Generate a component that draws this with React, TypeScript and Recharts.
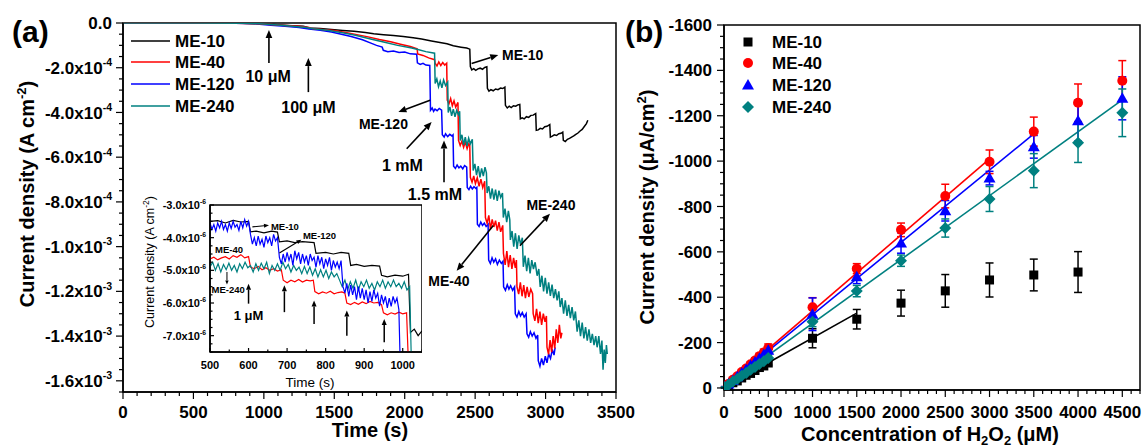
import React from "react";
import {
  ComposedChart,
  Line,
  Scatter,
  ErrorBar,
  XAxis,
  YAxis,
  ReferenceArea,
  ReferenceLine,
  ReferenceDot,
} from "recharts";

const FONT = "Arial, 'Liberation Sans', Helvetica, sans-serif";
const INK = "#000000";
const RED = "#ff0000";
const BLUE = "#0000ff";
const TEAL = "#008080";

type Pt = [number, number];

// (a) i-t traces, current density in units of 1e-4 A cm^-2
const TRACE_ME10: Pt[] = [
  [0, 0], [400, 0], [700, 0], [850, -0.01], [980, -0.02], [1040, -0.06], [1120, -0.09], [1200, -0.12],
  [1280, -0.15], [1325, -0.22], [1400, -0.25], [1480, -0.29], [1560, -0.33], [1640, -0.37], [1720, -0.43],
  [1780, -0.48], [1850, -0.52], [1920, -0.56], [1990, -0.6], [2060, -0.66], [2120, -0.72], [2190, -0.8],
  [2250, -0.87], [2300, -0.93], [2345, -1.02], [2400, -1.08], [2440, -1.12], [2462, -1.17],
  [2466, -1.95], [2476, -2.1], [2490, -2.04], [2504, -2.12], [2520, -2.05], [2536, -2.02], [2552, -2.07],
  [2568, -1.99], [2583, -1.96],
  [2587, -2.92], [2598, -3.05], [2612, -2.98], [2628, -3.03], [2645, -2.95], [2662, -2.98], [2680, -2.91],
  [2696, -2.93], [2711, -2.87],
  [2715, -3.68], [2728, -3.8], [2742, -3.72], [2756, -3.78], [2772, -3.7], [2788, -3.72], [2803, -3.66], [2817, -3.64],
  [2821, -4.28], [2834, -4.24], [2848, -4.29], [2864, -4.19], [2880, -4.22], [2896, -4.13], [2912, -4.12], [2930, -4.05],
  [2934, -4.8], [2948, -4.78], [2962, -4.71], [2978, -4.74], [2994, -4.64], [3010, -4.62], [3030, -4.54],
  [3034, -5.1], [3048, -5.06], [3062, -5.0], [3078, -5.03], [3094, -4.95], [3110, -4.93], [3122, -4.88],
  [3126, -5.25], [3140, -5.3], [3155, -5.2], [3170, -5.16], [3185, -5.1], [3200, -5.05], [3215, -4.98],
  [3230, -4.92], [3245, -4.83], [3260, -4.76], [3275, -4.63], [3290, -4.5], [3300, -4.35],
];

const TRACE_ME40: Pt[] = [
  [0, 0], [450, 0], [800, -0.01], [950, -0.03], [1050, -0.07], [1150, -0.11], [1250, -0.15], [1320, -0.2],
  [1340, -0.25], [1420, -0.29], [1500, -0.34], [1580, -0.42], [1660, -0.52], [1740, -0.62], [1820, -0.74],
  [1900, -0.84], [1970, -0.95], [2040, -1.05], [2088, -1.15], [2092, -1.38], [2130, -1.45], [2170, -1.56], [2212, -1.64],
  [2216, -1.8], [2229, -1.92], [2242, -1.74], [2256, -1.9], [2270, -1.77], [2284, -1.88], [2298, -1.8],
  [2302, -3.45], [2314, -3.62], [2326, -3.38], [2338, -3.7], [2350, -3.48], [2362, -3.76], [2378, -3.55],
  [2382, -5.25], [2394, -5.48], [2406, -5.28], [2418, -5.56], [2430, -5.32], [2443, -5.62], [2456, -5.38], [2462, -5.5],
  [2466, -6.9], [2478, -7.12], [2490, -6.84], [2502, -7.18], [2515, -6.92], [2528, -7.3], [2541, -6.98], [2554, -7.36], [2568, -7.08],
  [2573, -8.7], [2585, -8.95], [2597, -8.6], [2609, -9.22], [2621, -8.78], [2633, -9.12], [2645, -8.84], [2657, -9.28],
  [2669, -8.9], [2681, -9.34], [2696, -9.05],
  [2701, -10.3], [2713, -10.82], [2725, -10.2], [2737, -10.92], [2749, -10.38], [2761, -11.0], [2773, -10.5], [2785, -10.95], [2793, -10.6],
  [2797, -11.8], [2809, -12.12], [2821, -11.6], [2833, -12.22], [2845, -11.72], [2857, -12.3], [2869, -11.8], [2881, -12.25],
  [2895, -11.9], [2908, -12.1],
  [2912, -13.0], [2924, -13.32], [2936, -12.78], [2948, -13.42], [2960, -12.9], [2972, -13.5], [2984, -13.0], [2996, -13.36], [3006, -13.1],
  [3010, -14.5], [3021, -14.82], [3032, -14.18], [3043, -14.72], [3054, -14.0], [3065, -14.55], [3076, -13.7], [3087, -14.3],
  [3098, -13.5], [3108, -14.1], [3116, -13.85],
];

const TRACE_ME120: Pt[] = [
  [0, 0], [400, 0], [800, -0.01], [950, -0.04], [1050, -0.1], [1150, -0.15], [1250, -0.2], [1320, -0.27], [1400, -0.32],
  [1480, -0.4], [1550, -0.5], [1620, -0.6], [1700, -0.75], [1760, -0.9], [1800, -1.0], [1840, -1.08],
  [1848, -1.22], [1880, -1.28], [1920, -1.25], [1960, -1.32], [2000, -1.3], [2040, -1.38], [2085, -1.4],
  [2090, -1.78], [2110, -1.85], [2130, -1.8], [2150, -1.88], [2178, -1.9],
  [2183, -3.9], [2195, -3.8], [2205, -3.95], [2215, -3.85], [2230, -3.92], [2245, -3.82], [2262, -3.9],
  [2267, -5.0], [2280, -5.1], [2290, -4.95], [2305, -5.08], [2320, -4.98], [2335, -5.05], [2343, -5.0],
  [2347, -6.4], [2360, -6.5], [2372, -6.35], [2385, -6.48], [2398, -6.4], [2412, -6.52], [2425, -6.38], [2440, -6.45],
  [2444, -7.35], [2456, -7.45], [2468, -7.3], [2480, -7.42], [2492, -7.32], [2505, -7.4], [2512, -7.35],
  [2516, -9.0], [2528, -9.1], [2540, -8.9], [2552, -9.05], [2565, -8.95], [2578, -9.1], [2592, -9.0],
  [2596, -10.6], [2608, -10.75], [2620, -10.5], [2632, -10.7], [2645, -10.55], [2658, -10.8], [2672, -10.6], [2686, -10.75], [2698, -10.65],
  [2702, -11.8], [2715, -11.95], [2728, -11.7], [2740, -11.9], [2752, -11.75], [2766, -11.95], [2780, -11.8],
  [2785, -13.0], [2797, -13.15], [2810, -12.9], [2822, -13.1], [2835, -12.95], [2848, -13.15], [2862, -13.0],
  [2868, -13.9], [2880, -14.05], [2892, -13.8], [2905, -14.0], [2918, -13.85], [2932, -14.1], [2944, -13.95],
  [2948, -15.1], [2960, -15.35], [2972, -15.0], [2985, -15.3], [2998, -14.9], [3010, -15.2], [3022, -14.8],
  [3035, -15.0], [3048, -14.6], [3060, -14.85], [3068, -14.5],
];

const TRACE_ME240: Pt[] = [
  [0, 0], [500, 0], [850, -0.01], [1000, -0.04], [1100, -0.09], [1200, -0.14], [1300, -0.2], [1350, -0.26],
  [1450, -0.32], [1550, -0.42], [1650, -0.55], [1750, -0.7], [1850, -0.85], [1950, -1.0], [2050, -1.12],
  [2100, -1.2], [2150, -1.28], [2212, -1.35],
  [2216, -2.7], [2228, -2.5], [2240, -2.85], [2252, -2.6], [2264, -2.9], [2276, -2.55], [2290, -2.8], [2305, -2.65],
  [2309, -4.0], [2321, -3.75], [2333, -4.15], [2345, -3.85], [2357, -4.2], [2369, -3.9], [2381, -4.1], [2390, -3.95],
  [2394, -5.25], [2406, -5.0], [2418, -5.45], [2430, -5.1], [2442, -5.5], [2454, -5.15], [2466, -5.4], [2480, -5.2],
  [2486, -6.6], [2498, -6.3], [2510, -6.8], [2522, -6.4], [2534, -6.9], [2546, -6.5], [2558, -6.85], [2570, -6.45], [2580, -6.7],
  [2585, -7.6], [2597, -7.3], [2609, -7.85], [2621, -7.4], [2633, -7.9], [2645, -7.45], [2657, -7.95], [2669, -7.5],
  [2681, -7.8], [2694, -7.6],
  [2700, -8.7], [2712, -8.3], [2724, -8.9], [2736, -8.4], [2746, -8.8],
  [2750, -9.7], [2762, -9.3], [2774, -10.0], [2786, -9.4], [2798, -10.1], [2810, -9.5], [2822, -9.9], [2835, -9.6],
  [2842, -10.9], [2854, -10.4], [2866, -11.1], [2878, -10.5], [2890, -11.2], [2902, -10.6], [2914, -11.0], [2926, -10.7],
  [2940, -11.3], [2952, -11.0],
  [2962, -11.8], [2974, -11.3], [2986, -12.0], [2998, -11.4], [3010, -12.1], [3022, -11.6], [3034, -12.2], [3046, -11.7],
  [3058, -12.3], [3070, -11.9], [3082, -12.4], [3094, -12.0],
  [3104, -12.7], [3116, -12.3], [3128, -13.0], [3140, -12.4], [3152, -13.1], [3164, -12.6], [3176, -13.2], [3188, -12.7],
  [3200, -13.3], [3212, -12.9],
  [3224, -13.8], [3236, -13.3], [3248, -14.0], [3260, -13.4], [3272, -14.1], [3284, -13.6], [3296, -14.2], [3308, -13.7],
  [3320, -14.3], [3332, -13.9], [3344, -14.4], [3356, -14.0],
  [3366, -14.5], [3378, -14.0], [3390, -14.8], [3400, -14.2], [3408, -15.5], [3416, -14.6], [3424, -15.2], [3432, -14.4], [3438, -14.8],
];

// inset, current density in units of 1e-6 A cm^-2
const INSET_ME10: Pt[] = [
  [500, -3.5], [520, -3.48], [540, -3.55], [560, -3.47], [580, -3.52], [600, -3.5],
  [605, -3.82], [620, -3.8], [640, -3.85], [660, -3.8], [675, -3.83],
  [680, -4.13], [700, -4.1], [720, -4.15], [740, -4.12], [770, -4.15],
  [775, -4.48], [800, -4.45], [820, -4.5], [840, -4.45], [860, -4.48],
  [865, -4.85], [880, -4.82], [900, -4.88], [920, -4.85], [940, -4.87],
  [945, -5.15], [960, -5.2], [980, -5.15], [1000, -5.18], [1015, -5.12],
  [1020, -6.9], [1030, -6.8], [1040, -7.0], [1050, -6.85],
];

const INSET_ME40: Pt[] = [
  [500, -4.65], [510, -4.6], [520, -4.68], [530, -4.62], [540, -4.58], [550, -4.65], [560, -4.55], [570, -4.6],
  [580, -4.52], [590, -4.62], [600, -4.58],
  [605, -4.9], [615, -4.95], [625, -4.88], [635, -4.98], [645, -4.92], [655, -5.0], [665, -4.95], [675, -5.02], [685, -4.98],
  [690, -5.3], [700, -5.38], [710, -5.3], [720, -5.35], [730, -5.28], [740, -5.36], [750, -5.3], [760, -5.32], [768, -5.3],
  [772, -5.65], [782, -5.72], [792, -5.66], [802, -5.7], [812, -5.64], [822, -5.72], [832, -5.68], [842, -5.66], [850, -5.7],
  [855, -6.0], [865, -6.05], [875, -5.98], [885, -6.04], [895, -5.97], [905, -6.02], [915, -5.95], [925, -6.0], [935, -5.98], [945, -6.05],
  [950, -6.3], [960, -6.36], [970, -6.3], [980, -6.34], [990, -6.28], [1000, -6.33], [1010, -6.3], [1014, -7.6],
];

const INSET_ME120: Pt[] = [
  [500, -3.55], [505, -3.75], [510, -3.6], [515, -3.8], [520, -3.55], [525, -3.7], [530, -3.5], [535, -3.75],
  [540, -3.6], [545, -3.8], [550, -3.55], [555, -3.72], [560, -3.5], [565, -3.68], [570, -3.6], [575, -3.78],
  [580, -3.5], [585, -3.7], [590, -3.45], [595, -3.65], [600, -3.5],
  [605, -3.9], [610, -4.2], [615, -4.0], [620, -4.25], [625, -3.95], [630, -4.2], [635, -4.05], [640, -4.3],
  [645, -3.95], [650, -4.15], [655, -4.0], [660, -4.25], [665, -3.9], [670, -4.1], [675, -4.0],
  [680, -4.6], [685, -4.8], [690, -4.5], [695, -4.75], [700, -4.45], [705, -4.7], [710, -4.5], [715, -4.85],
  [720, -4.4], [725, -4.65], [730, -4.45], [735, -4.8], [740, -4.5], [745, -4.75], [750, -4.55], [755, -4.85],
  [760, -4.5], [765, -4.7], [770, -4.6], [775, -4.9], [780, -4.55], [785, -4.8], [790, -4.6], [795, -4.95],
  [800, -4.65], [805, -4.85], [810, -4.6], [815, -5.0], [820, -4.7], [825, -4.9], [830, -4.75], [835, -4.95], [840, -4.7],
  [845, -5.5], [850, -5.7], [855, -5.4], [860, -5.8], [865, -5.45], [870, -5.75], [875, -5.5], [880, -5.9],
  [885, -5.5], [890, -5.85], [895, -5.55], [900, -5.9], [905, -5.6], [910, -6.0], [915, -5.65], [920, -5.95],
  [925, -5.6], [930, -5.85], [935, -5.7], [940, -6.1], [945, -5.75], [950, -6.0], [955, -5.8], [960, -6.15],
  [965, -5.85], [970, -6.1], [975, -5.8], [980, -6.0], [985, -5.85], [990, -6.2], [993, -7.6],
];

const INSET_ME240: Pt[] = [
  [500, -4.9], [507, -4.75], [514, -5.0], [521, -4.8], [528, -5.05], [535, -4.82], [542, -4.98], [549, -4.78],
  [556, -5.0], [563, -4.85], [570, -5.05], [577, -4.8], [584, -4.95], [591, -4.75], [598, -4.92], [605, -4.85],
  [612, -5.05], [619, -4.8], [626, -5.0], [633, -4.78], [640, -4.95], [647, -4.75], [654, -5.1], [661, -4.85],
  [668, -5.0], [675, -4.8], [682, -5.0], [689, -4.75], [696, -4.95], [703, -4.82], [710, -5.05], [717, -4.85],
  [724, -5.0], [731, -4.9], [738, -5.1], [745, -4.88], [752, -5.1], [759, -4.9], [766, -5.15], [773, -4.95],
  [780, -5.2], [787, -4.98], [794, -5.2], [801, -5.0], [808, -5.25], [815, -5.05], [822, -5.2], [829, -5.1],
  [836, -5.3], [843, -5.5], [850, -5.3], [857, -5.6], [864, -5.35], [871, -5.55], [878, -5.3], [885, -5.6],
  [892, -5.35], [899, -5.5], [906, -5.3], [913, -5.55], [920, -5.4], [927, -5.6], [934, -5.35], [941, -5.5],
  [948, -5.3], [955, -5.55], [962, -5.35], [969, -5.5], [976, -5.3], [983, -5.5], [990, -5.4], [997, -5.55],
  [1004, -5.35], [1011, -5.6], [1018, -5.5], [1022, -7.6],
];

// (b) calibration, uA/cm^2 vs uM
const CONC = [10, 50, 100, 150, 200, 250, 300, 350, 400, 450, 500, 1000, 1500, 2000, 2500, 3000, 3500, 4000, 4500];
const CAL_ME10 = [-2, -12, -23, -31, -44, -56, -64, -77, -90, -97, -110, -219, -303, -374, -428, -476, -498, -511];
const ERR_ME10 = [2, 3, 3, 4, 5, 5, 6, 6, 7, 8, 9, 42, 43, 57, 72, 75, 70, 90];
const CAL_ME40 = [-4, -18, -36, -52, -70, -86, -104, -121, -140, -156, -176, -356, -526, -697, -846, -997, -1130, -1257, -1354];
const ERR_ME40 = [2, 3, 4, 6, 8, 9, 10, 12, 13, 15, 18, 42, 22, 30, 52, 52, 64, 83, 89];
const CAL_ME120 = [-4, -17, -33, -49, -66, -81, -99, -114, -131, -148, -166, -325, -490, -639, -781, -925, -1063, -1178, -1277];
const ERR_ME120 = [2, 3, 4, 5, 7, 8, 9, 11, 12, 14, 16, 72, 30, 45, 45, 30, 50, 90, 95];
const CAL_ME240 = [-3, -14, -28, -40, -54, -66, -80, -92, -106, -118, -132, -292, -427, -561, -705, -833, -958, -1081, -1213];
const ERR_ME240 = [2, 3, 4, 5, 6, 7, 8, 9, 10, 11, 12, 22, 25, 25, 40, 55, 75, 87, 105];

const FIT_ME10: Pt[] = [[0, -2], [1500, -330]];
const FIT_ME40: Pt[] = [[0, -4], [3000, -1010]];
const FIT_ME120: Pt[] = [[0, -4], [3500, -1120]];
const FIT_ME240: Pt[] = [[0, -3], [4500, -1270]];

const NAMES = ["ME-10", "ME-40", "ME-120", "ME-240"];
const COLORS = [INK, RED, BLUE, TEAL];
const MARKERS = ["square", "circle", "triangle", "diamond"];

const A_X_MAJOR = [0, 500, 1000, 1500, 2000, 2500, 3000, 3500];
const A_Y_MAJOR = [0, -2, -4, -6, -8, -10, -12, -14, -16];
const IN_X_MAJOR = [500, 600, 700, 800, 900, 1000];
const IN_Y_MAJOR = [-3, -4, -5, -6, -7];
const B_X_MAJOR = [0, 500, 1000, 1500, 2000, 2500, 3000, 3500, 4000, 4500];
const B_Y_MAJOR = [0, -200, -400, -600, -800, -1000, -1200, -1400, -1600];

function steps(from: number, to: number, step: number) {
  const out: number[] = [];
  for (let v = from; v <= to + 1e-9; v += step) out.push(Math.round(v * 1000) / 1000);
  return out;
}

const toRows = (pts: Pt[]) => pts.map(([t, v]) => ({ t, v }));
const fitRows = (pts: Pt[]) => pts.map(([c, v]) => ({ c, v }));
const calRows = (vals: number[], errs: number[]) => vals.map((v, i) => ({ c: CONC[i], v, e: errs[i] }));

type AxisStyle = {
  majors: number[];
  fmt: (v: number) => React.ReactNode;
  fontSize: number;
  weight: number;
  major: number;
  minor: number;
  gap: number;
  inward?: boolean;
};

const isMajor = (majors: number[], v: number) => majors.some((m) => Math.abs(m - v) < 1e-9);

function bottomTick(s: AxisStyle) {
  return (p: any) => {
    const { x, y } = p;
    const v = p.payload.value;
    const big = isMajor(s.majors, v);
    const len = big ? s.major : s.minor;
    return (
      <g>
        <line x1={x} y1={y} x2={x} y2={s.inward ? y - len : y + len} stroke={INK} strokeWidth={1.2} />
        {big ? (
          <text x={x} y={y + s.gap} textAnchor="middle" fontFamily={FONT} fontWeight={s.weight} fontSize={s.fontSize} fill={INK}>
            {s.fmt(v)}
          </text>
        ) : null}
      </g>
    );
  };
}

function leftTick(s: AxisStyle) {
  return (p: any) => {
    const { x, y } = p;
    const v = p.payload.value;
    const big = isMajor(s.majors, v);
    const len = big ? s.major : s.minor;
    return (
      <g>
        <line x1={x} y1={y} x2={s.inward ? x + len : x - len} y2={y} stroke={INK} strokeWidth={1.2} />
        {big ? (
          <text x={x - s.gap} y={y} dy="0.36em" textAnchor="end" fontFamily={FONT} fontWeight={s.weight} fontSize={s.fontSize} fill={INK}>
            {s.fmt(v)}
          </text>
        ) : null}
      </g>
    );
  };
}

function sci(exp: number, fs: number) {
  return (v: number): React.ReactNode => {
    if (v === 0) return "0.0";
    let m = v;
    let e = exp;
    while (Math.abs(m) >= 9.999) {
      m /= 10;
      e += 1;
    }
    return (
      <>
        {`${m.toFixed(1)}x10`}
        <tspan dy={-fs * 0.45} fontSize={fs * 0.62}>{e}</tspan>
      </>
    );
  };
}

const plain = (v: number) => String(v);

const arrowShape = (head: number, width: number) => (p: any) => {
  const { x1, y1, x2, y2 } = p;
  const dx = x2 - x1;
  const dy = y2 - y1;
  const L = Math.hypot(dx, dy) || 1;
  const ux = dx / L;
  const uy = dy / L;
  const bx = x2 - ux * head;
  const by = y2 - uy * head;
  const w = head * 0.42;
  return (
    <g>
      <line x1={x1} y1={y1} x2={bx} y2={by} stroke={INK} strokeWidth={width} />
      <polygon points={`${x2},${y2} ${bx - uy * w},${by + ux * w} ${bx + uy * w},${by - ux * w}`} fill={INK} />
    </g>
  );
};

function arrow(key: string, from: Pt, to: Pt, head = 8, width = 1.6) {
  return (
    <ReferenceLine
      key={key}
      segment={[{ x: from[0], y: from[1] }, { x: to[0], y: to[1] }]}
      shape={arrowShape(head, width)}
      ifOverflow="visible"
    />
  );
}

function note(key: string, at: Pt, text: React.ReactNode, size: number, anchor: "start" | "middle" | "end" = "middle") {
  return (
    <ReferenceDot
      key={key}
      x={at[0]}
      y={at[1]}
      r={0}
      ifOverflow="visible"
      shape={(p: any) => (
        <text x={p.cx} y={p.cy} dy="0.36em" textAnchor={anchor} fontFamily={FONT} fontWeight={700} fontSize={size} fill={INK}>
          {text}
        </text>
      )}
    />
  );
}

const AXIS_LINE = { stroke: INK, strokeWidth: 1.5 };

function PanelA() {
  const traces = [
    { rows: toRows(TRACE_ME10), color: INK },
    { rows: toRows(TRACE_ME120), color: BLUE },
    { rows: toRows(TRACE_ME40), color: RED },
    { rows: toRows(TRACE_ME240), color: TEAL },
  ];
  return (
    <div style={{ position: "absolute", left: 0, top: 0 }}>
      <ComposedChart width={642} height={447} margin={{ top: 23, right: 26, bottom: 0, left: 0 }}>
        <XAxis
          type="number"
          dataKey="t"
          domain={[0, 3500]}
          ticks={steps(0, 3500, 100)}
          interval={0}
          tickSize={0}
          tickMargin={0}
          tickLine={false}
          axisLine={AXIS_LINE}
          tick={bottomTick({ majors: A_X_MAJOR, fmt: plain, fontSize: 17, weight: 700, major: 7, minor: 4, gap: 26 })}
          height={55}
          allowDataOverflow
        />
        <YAxis
          type="number"
          dataKey="v"
          domain={[-16.5, 0]}
          ticks={steps(-16.5, 0, 0.5)}
          interval={0}
          tickSize={0}
          tickMargin={0}
          tickLine={false}
          axisLine={AXIS_LINE}
          tick={leftTick({ majors: A_Y_MAJOR, fmt: sci(-4, 17), fontSize: 17, weight: 700, major: 7, minor: 4, gap: 11 })}
          width={123}
          allowDataOverflow
        />
        <ReferenceArea x1={0} x2={3500} y1={-16.5} y2={0} fill="none" stroke={INK} strokeWidth={1.5} />
        {traces.map((s, i) => (
          <Line
            key={`tr${i}`}
            data={s.rows}
            dataKey="v"
            type="linear"
            stroke={s.color}
            strokeWidth={1.5}
            dot={false}
            activeDot={false}
            isAnimationActive={false}
          />
        ))}
        {arrow("a1", [1036, -1.79], [1036, -0.31])}
        {note("n1", [1030, -2.38], "10 μM", 16)}
        {arrow("a2", [1316, -3.09], [1316, -1.57])}
        {note("n2", [1316, -3.77], "100 μM", 16)}
        {arrow("a3", [2475, -1.81], [2664, -1.43])}
        {note("n3", [2691, -1.43], "ME-10", 14, "start")}
        {arrow("a4", [2180, -3.45], [1955, -3.98])}
        {note("n4", [2023, -4.5], "ME-120", 14, "end")}
        {arrow("a5", [2014, -5.62], [2191, -4.43])}
        {note("n5", [1984, -6.37], "1 mM", 16)}
        {arrow("a6", [2279, -7.12], [2279, -5.25])}
        {note("n6", [2215, -7.64], "1.5 mM", 16)}
        {arrow("a7", [2818, -9.96], [3031, -8.53])}
        {note("n7", [3038, -8.12], "ME-240", 14)}
        {arrow("a8", [2629, -9.06], [2369, -11.08])}
        {note("n8", [2314, -11.52], "ME-40", 14)}
      </ComposedChart>
    </div>
  );
}

function Inset() {
  const traces = [
    { rows: toRows(INSET_ME10), color: INK },
    { rows: toRows(INSET_ME40), color: RED },
    { rows: toRows(INSET_ME240), color: TEAL },
    { rows: toRows(INSET_ME120), color: BLUE },
  ];
  const steps1uM: Pt[] = [[600, -6.02], [693, -6.28], [770, -6.64], [855, -7.0], [952, -7.2]];
  const tips: number[] = [-5.41, -5.46, -5.92, -6.23, -6.49];
  return (
    <div style={{ position: "absolute", left: 130, top: 195 }}>
      <ComposedChart width={292} height={199} margin={{ top: 10, right: 0, bottom: 0, left: 0 }}>
        <XAxis
          type="number"
          dataKey="t"
          domain={[500, 1050]}
          ticks={steps(500, 1050, 50)}
          interval={0}
          tickSize={0}
          tickMargin={0}
          tickLine={false}
          axisLine={AXIS_LINE}
          tick={bottomTick({ majors: IN_X_MAJOR, fmt: plain, fontSize: 11, weight: 700, major: 4, minor: 2.5, gap: 17, inward: true })}
          height={42}
          allowDataOverflow
        />
        <YAxis
          type="number"
          dataKey="v"
          domain={[-7.5, -3]}
          ticks={steps(-7.5, -3, 0.25)}
          interval={0}
          tickSize={0}
          tickMargin={0}
          tickLine={false}
          axisLine={AXIS_LINE}
          tick={leftTick({ majors: IN_Y_MAJOR, fmt: sci(-6, 11), fontSize: 11, weight: 700, major: 4, minor: 2.5, gap: 4, inward: true })}
          width={80}
          allowDataOverflow
        />
        <ReferenceArea x1={500} x2={1050} y1={-7.5} y2={-3} fill="none" stroke={INK} strokeWidth={1.5} />
        {traces.map((s, i) => (
          <Line
            key={`in${i}`}
            data={s.rows}
            dataKey="v"
            type="linear"
            stroke={s.color}
            strokeWidth={1.2}
            dot={false}
            activeDot={false}
            isAnimationActive={false}
          />
        ))}
        {steps1uM.map((p, i) => arrow(`ia${i}`, p, [p[0], tips[i]], 6, 1.5))}
        {note("in1", [600, -6.38], "1 μM", 13)}
        {arrow("ia10", [610, -3.67], [653, -3.62], 5, 1.1)}
        {note("in2", [658, -3.65], "ME-10", 9.5, "start")}
        {arrow("ia11", [680, -4.47], [737, -4.06], 5, 1.1)}
        {note("in3", [741, -3.95], "ME-120", 9.5, "start")}
        {note("in4", [513, -4.36], "ME-40", 9.5, "start")}
        {arrow("ia12", [544, -5.05], [544, -5.43], 4, 1)}
        {note("in5", [504, -5.6], "ME-240", 9.5, "start")}
      </ComposedChart>
    </div>
  );
}

function Marker({ kind, cx, cy, color }: { kind: string; cx: number; cy: number; color: string }) {
  if (kind === "square") return <rect x={cx - 4.5} y={cy - 4.5} width={9} height={9} fill={color} />;
  if (kind === "circle") return <circle cx={cx} cy={cy} r={5} fill={color} />;
  if (kind === "triangle")
    return <polygon points={`${cx},${cy - 6} ${cx + 6},${cy + 4.5} ${cx - 6},${cy + 4.5}`} fill={color} />;
  return <polygon points={`${cx},${cy - 6} ${cx + 6},${cy} ${cx},${cy + 6} ${cx - 6},${cy}`} fill={color} />;
}

function PanelB() {
  const cal = [
    calRows(CAL_ME10, ERR_ME10),
    calRows(CAL_ME40, ERR_ME40),
    calRows(CAL_ME120, ERR_ME120),
    calRows(CAL_ME240, ERR_ME240),
  ];
  const fits = [FIT_ME10, FIT_ME40, FIT_ME120, FIT_ME240];
  return (
    <div style={{ position: "absolute", left: 620, top: 0 }}>
      <ComposedChart width={522} height={447} margin={{ top: 25, right: 2, bottom: 0, left: 0 }}>
        <XAxis
          type="number"
          dataKey="c"
          domain={[0, 4700]}
          ticks={steps(0, 4700, 100)}
          interval={0}
          tickSize={0}
          tickMargin={0}
          tickLine={false}
          axisLine={AXIS_LINE}
          tick={bottomTick({ majors: B_X_MAJOR, fmt: plain, fontSize: 17, weight: 700, major: 7, minor: 4, gap: 28 })}
          height={57}
          allowDataOverflow
        />
        <YAxis
          type="number"
          dataKey="v"
          domain={[-1600, 9]}
          reversed
          ticks={steps(-1600, 0, 50)}
          interval={0}
          tickSize={0}
          tickMargin={0}
          tickLine={false}
          axisLine={AXIS_LINE}
          tick={leftTick({ majors: B_Y_MAJOR, fmt: plain, fontSize: 17, weight: 700, major: 7, minor: 4, gap: 12 })}
          width={104}
          allowDataOverflow
        />
        <ReferenceArea x1={0} x2={4700} y1={-1600} y2={9} fill="none" stroke={INK} strokeWidth={1.5} />
        {fits.map((f, i) => (
          <Line
            key={`fit${i}`}
            data={fitRows(f)}
            dataKey="v"
            type="linear"
            stroke={COLORS[i]}
            strokeWidth={1.6}
            dot={false}
            activeDot={false}
            isAnimationActive={false}
          />
        ))}
        {cal.map((rows, i) => (
          <Scatter
            key={`cal${i}`}
            data={rows}
            dataKey="v"
            fill={COLORS[i]}
            isAnimationActive={false}
            shape={(p: any) => <Marker kind={MARKERS[i]} cx={p.cx} cy={p.cy} color={COLORS[i]} />}
          >
            <ErrorBar dataKey="e" direction="y" width={4} stroke={COLORS[i]} strokeWidth={1.5} />
          </Scatter>
        ))}
      </ComposedChart>
    </div>
  );
}

function Overlay() {
  const bold = { fontFamily: FONT, fontWeight: 700, fill: INK } as const;
  const rows = [41, 62, 84, 106];
  return (
    <svg width={1142} height={447} style={{ position: "absolute", left: 0, top: 0, pointerEvents: "none" }}>
      <text x={12} y={42} fontSize={30} {...bold}>(a)</text>
      <text x={625} y={42} fontSize={30} {...bold}>(b)</text>

      {NAMES.map((n, i) => (
        <g key={`la${i}`}>
          <line x1={131} y1={rows[i]} x2={170} y2={rows[i]} stroke={COLORS[i]} strokeWidth={1.6} />
          <text x={175} y={rows[i]} dy="0.36em" fontSize={17} {...bold}>{n}</text>
        </g>
      ))}
      {NAMES.map((n, i) => (
        <g key={`lb${i}`}>
          <Marker kind={MARKERS[i]} cx={748} cy={rows[i] + 1} color={COLORS[i]} />
          <text x={772} y={rows[i] + 1} dy="0.36em" fontSize={17} {...bold}>{n}</text>
        </g>
      ))}

      <text transform="translate(27,194) rotate(-90)" textAnchor="middle" dy="0.36em" fontSize={20} {...bold}>
        Current density (A cm<tspan dy={-8} fontSize={13}>-2</tspan><tspan dy={8}>)</tspan>
      </text>
      <text x={370} y={437} textAnchor="middle" fontSize={20} {...bold}>Time (s)</text>

      <text transform="translate(647,207) rotate(-90)" textAnchor="middle" dy="0.36em" fontSize={20} {...bold}>
        Current density (μA/cm<tspan dy={-8} fontSize={13}>2</tspan><tspan dy={8}>)</tspan>
      </text>
      <text x={930} y={441} textAnchor="middle" fontSize={20} {...bold}>
        Concentration of H<tspan dy={4} fontSize={13}>2</tspan><tspan dy={-4}>O</tspan>
        <tspan dy={4} fontSize={13}>2</tspan><tspan dy={-4}> (μM)</tspan>
      </text>

      <text transform="translate(149,262) rotate(-90)" textAnchor="middle" dy="0.36em" fontFamily={FONT} fontSize={12.5} fill={INK}>
        Current density (A cm<tspan dy={-5} fontSize={8.5}>-2</tspan><tspan dy={5}>)</tspan>
      </text>
      <text x={310} y={386.5} textAnchor="middle" fontFamily={FONT} fontSize={13.5} fill={INK}>Time (s)</text>
    </svg>
  );
}

export default function App() {
  return (
    <div style={{ position: "absolute", left: 0, top: 0, width: 1142, height: 447, background: "#fff", overflow: "hidden" }}>
      <PanelA />
      <Inset />
      <PanelB />
      <Overlay />
    </div>
  );
}
